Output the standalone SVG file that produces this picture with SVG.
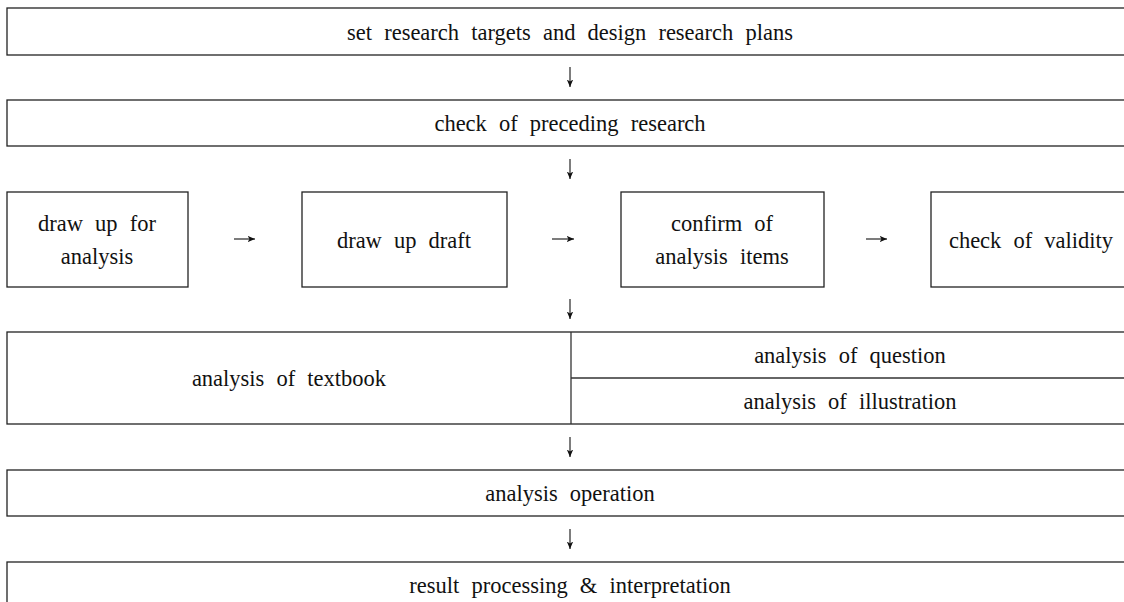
<svg xmlns="http://www.w3.org/2000/svg" width="1124" height="602" viewBox="0 0 1124 602">
<defs>
<marker id="ah" viewBox="0 0 8 8" refX="7.5" refY="4" markerWidth="8" markerHeight="8" markerUnits="userSpaceOnUse" orient="auto">
<path d="M0,0.8 L7.5,4 L0,7.2 L2,4 Z" fill="#111"/>
</marker>
</defs>
<style>
.box{fill:#fff;stroke:#222;stroke-width:1.3}
.ln{stroke:#333;stroke-width:1.3;fill:none}
.cn{stroke:#111;stroke-width:1.1;fill:none;marker-end:url(#ah)}
text{font-family:"Liberation Serif","Times New Roman",serif;font-size:22.5px;fill:#111;text-anchor:middle;word-spacing:6.5px}
</style>
<rect width="1124" height="602" fill="#fff"/>
<g id="n1"><rect class="box" x="7" y="8" width="1126" height="47"/><text x="570" y="40">set research targets and design research plans</text></g>
<g id="n2"><rect class="box" x="7" y="100" width="1126" height="46"/><text x="570" y="131">check of preceding research</text></g>
<g id="n3"><rect class="box" x="7" y="192" width="181" height="95"/><text x="97" y="231">draw up for</text><text x="97" y="264">analysis</text></g>
<g id="n4"><rect class="box" x="302" y="192" width="205" height="95"/><text x="404" y="248">draw up draft</text></g>
<g id="n5"><rect class="box" x="621" y="192" width="203" height="95"/><text x="722" y="231">confirm of</text><text x="722" y="264">analysis items</text></g>
<g id="n6"><rect class="box" x="931" y="192" width="200" height="95"/><text x="1031" y="248">check of validity</text></g>
<g id="n7"><rect class="box" x="7" y="332" width="1126" height="92"/><line class="ln" x1="571" y1="332" x2="571" y2="424"/><line class="ln" x1="571" y1="378" x2="1133" y2="378"/><text x="289" y="386">analysis of textbook</text></g>
<g id="n7a"><text x="850" y="363">analysis of question</text></g>
<g id="n7b"><text x="850" y="409">analysis of illustration</text></g>
<g id="n8"><rect class="box" x="7" y="470" width="1126" height="46"/><text x="570" y="501">analysis operation</text></g>
<g id="n9"><rect class="box" x="7" y="562" width="1126" height="50"/><text x="570" y="593">result processing &amp; interpretation</text></g>
<g id="connectors">
<line class="cn" x1="570" y1="67" x2="570" y2="87"/>
<line class="cn" x1="570" y1="159" x2="570" y2="179"/>
<line class="cn" x1="570" y1="299" x2="570" y2="319"/>
<line class="cn" x1="570" y1="437" x2="570" y2="457"/>
<line class="cn" x1="570" y1="529" x2="570" y2="549"/>
<line class="cn" x1="234" y1="239" x2="255" y2="239"/>
<line class="cn" x1="552" y1="239" x2="574" y2="239"/>
<line class="cn" x1="866" y1="239" x2="887" y2="239"/>
</g>
</svg>
